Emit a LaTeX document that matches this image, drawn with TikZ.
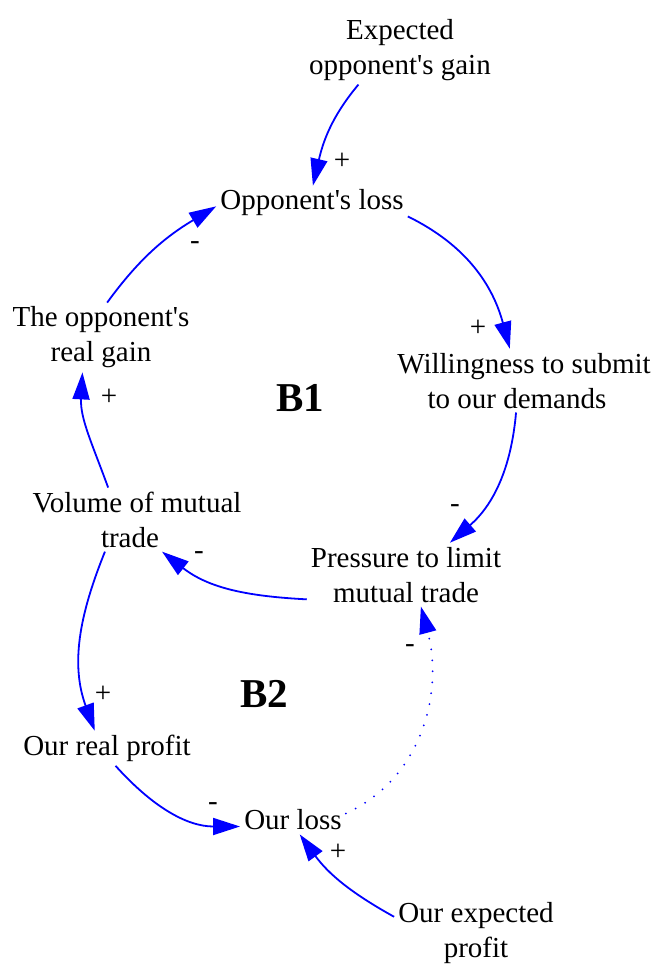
\documentclass[tikz,border=0pt]{standalone}
\usepackage{fontspec}
\setmainfont{Liberation Serif}
\usetikzlibrary{arrows.meta}
\tikzset{var/.style={align=center, inner sep=4pt, font=\fontsize{29}{35}\selectfont},
  polarity/.style={inner sep=0pt, font=\fontsize{29}{35}\selectfont},
  loopname/.style={inner sep=0pt, font=\fontsize{41}{41}\selectfont\bfseries},
  causal/.style={draw=blue, line width=1.8pt, -{Triangle[length=27pt,width=17pt]}},
  dotlink/.style={line cap=round, dash pattern=on 0pt off 11pt, line width=2pt}
}

\begin{document}
\begin{tikzpicture}[x=1pt,y=1pt]
      \useasboundingbox (0,0) rectangle (656,-965);
      \node[var] (expgain) at (400,-49.7) {Expected\\opponent\textquotesingle s gain};
      \node[var] (opploss) at (312,-203) {Opponent\textquotesingle s loss};
      \node[var] (realgain) at (101,-337.5) {The opponent\textquotesingle s\\real gain};
      \node[var] (willing) at (524,-380.6) {Willingness to submit\\to our demands\hspace*{14pt}};
      \node[var] (volume) at (137,-519.6) {Volume of mutual\\trade\hspace*{14pt}};
      \node[var] (pressure) at (406,-574.6) {Pressure to limit\\mutual trade};
      \node[var] (realprofit) at (107,-748.3) {Our real profit};
      \node[var] (ourloss) at (293,-820) {Our loss};
      \node[var] (expprofit) at (476,-932.7) {Our expected\\profit};
      \node[loopname] (b1) at (300.5,-398) {B1};
      \node[loopname] (b2) at (264,-694) {B2};
      \draw[causal] (expgain.220) to[out=230,in=77] (opploss.87);
      \draw[causal] (opploss.352) to[out=-26,in=105] (willing.114);
      \draw[causal] (willing.256) to[out=-95,in=41] (pressure.36);
      \draw[causal] (pressure.194) to[out=177,in=-38] (volume.-52);
      \draw[causal] (volume.132) to[out=110,in=-93] (realgain.242);
      \draw[causal] (realgain.80) to[out=54,in=211] (opploss.182);
      \draw[causal] (volume.225) to[out=248,in=110] (realprofit.125);
      \draw[causal] (realprofit.-64) to[out=-48,in=180] (ourloss.187);
      \draw[causal,dotlink] (ourloss.7) to[out=25,in=-75] (pressure.-65);
      \draw[causal] (expprofit.169) to[out=151,in=-54] (ourloss.-65);
      \node[polarity] (s1) at (342,-161) {+};
      \node[polarity] (s2) at (478,-328) {+};
      \node[polarity] (s3) at (455,-509) {-};
      \node[polarity] (s4) at (199,-556) {-};
      \node[polarity] (s5) at (109,-397) {+};
      \node[polarity] (s6) at (195,-246) {-};
      \node[polarity] (s7) at (103,-694) {+};
      \node[polarity] (s8) at (213,-807) {-};
      \node[polarity] (s9) at (410,-649) {-};
      \node[polarity] (s10) at (338,-852) {+};
\end{tikzpicture}
\end{document}
